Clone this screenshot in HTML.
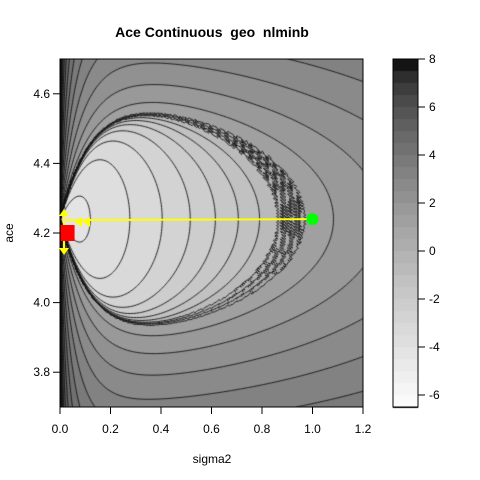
<!DOCTYPE html>
<html><head><meta charset="utf-8">
<style>
html,body{margin:0;padding:0;background:#fff;}
#wrap{position:relative;width:480px;height:480px;font-family:"Liberation Sans",Arial,sans-serif;}
canvas{position:absolute;left:0;top:0;}
svg{position:absolute;left:0;top:0;}
</style></head>
<body>
<div id="wrap">
<canvas id="cv" width="480" height="480"></canvas>
<svg id="sv" width="480" height="480"></svg>
</div>
<script>
// ---- data ----
const levelMin = -6.5, levelMax = 8, levelStep = 0.5;
const xTicks = [0.0, 0.2, 0.4, 0.6, 0.8, 1.0, 1.2];
const xTickLabels = ["0.0","0.2","0.4","0.6","0.8","1.0","1.2"];
const yTicks = [3.8, 4.0, 4.2, 4.4, 4.6];
const yTickLabels = ["3.8","4.0","4.2","4.4","4.6"];
const barTicks = [8, 6, 4, 2, 0, -2, -4, -6];
const centerProfile = [-4.3, 2.2, 2.5];   // inner value along ridge centre
const shapeParams = [0.345, 0.16, 0.12];  // half-height, growth, left pinch
const bandParams = [0.86, 0.97, 1.0];     // band start, band end, value at band edge
const outerParams = [0.23, 0.6, 2.3, 0.7];// height growth, pinch decay, value slope, exponent
const ridgeCenter = 4.24;
const optimumPoint = [1.0, 4.24];
const startPoint = [0.03, 4.2];
const pathStart = [0.025, 4.237];
const xDomain = [0, 1.2], yDomain = [3.7, 4.7];

// ---- geometry ----
const PL=60, PR=363, PT=59, PB=407;
const X = s => PL + (s - xDomain[0])/(xDomain[1]-xDomain[0])*(PR-PL);
const Y = a => PB - (a - yDomain[0])/(yDomain[1]-yDomain[0])*(PB-PT);
const BT=59, BB=407, BL=393, BR=418;
const LY = L => BB - (L - levelMin)/(levelMax-levelMin)*(BB-BT);

function g(sR){ return centerProfile[0] + centerProfile[1]*sR + centerProfile[2]*sR*sR; }
function D(s, sR){
  if (s >= sR) return 0;
  const [H,gr,w] = shapeParams;
  const u = s/sR;
  return H*(1-Math.exp(-sR/gr))*Math.sqrt(1-u*u)*(1-Math.exp(-s/w));
}
const H0 = shapeParams[0]*(1-Math.exp(-bandParams[1]/shapeParams[1]));
function Dout(s, sR){
  if (s >= sR) return 0;
  const [beta, decay] = outerParams;
  const b1 = bandParams[1];
  const H = H0 + beta*(sR-b1);
  const w = shapeParams[2]*Math.exp(-(sR-b1)*decay);
  const u = s/sR;
  return H*Math.sqrt(1-u*u)*(1-Math.exp(-s/w));
}
function surf(s, a, px, py){
  s = Math.max(s, 0.0005);
  const d = Math.abs(a - ridgeCenter);
  const [b0,b1,bv] = bandParams;
  const Db = D(s, b1);
  if (d < Db){
    let lo = s, hi = b1;
    for (let k=0;k<28;k++){ const m=(lo+hi)/2; if (D(s,m) < d) lo=m; else hi=m; }
    const sR = (lo+hi)/2;
    if (sR <= b0) return g(sR);
    const g0 = g(b0);
    return g0 + (sR-b0)/(b1-b0)*(bv-g0) + 0.5*Math.sin(px*1.7)*Math.sin(py*2.1);
  }
  let lo = Math.max(b1, s), hi = 8;
  for (let k=0;k<30;k++){ const m=(lo+hi)/2; if (Dout(s,m) < d) lo=m; else hi=m; }
  const sR=(lo+hi)/2;
  return bv + outerParams[2]*Math.pow(sR-b1, outerParams[3]);
}
const nb = Math.round((levelMax-levelMin)/levelStep);
function bandColor(i){
  const t = i/(nb-1);
  const v = Math.round(20 + 230*Math.pow(t,0.65));
  return "rgb("+v+","+v+","+v+")";
}
function colorFor(f){
  let k = Math.floor((levelMax - f)/levelStep);
  k = Math.max(0, Math.min(nb-1, k));
  return bandColor(k);
}

const cv = document.getElementById('cv'), ctx = cv.getContext('2d');
for (let px=PL; px<PR; px++){
  for (let py=PT; py<PB; py++){
    const s = xDomain[0] + (px+0.5-PL)/(PR-PL)*(xDomain[1]-xDomain[0]);
    const a = yDomain[0] + (PB-(py+0.5))/(PB-PT)*(yDomain[1]-yDomain[0]);
    ctx.fillStyle = colorFor(surf(s,a,px,py));
    ctx.fillRect(px,py,1,1);
  }
}
// contours
const step=1.5, nx=Math.ceil((PR-PL)/step)+1, ny=Math.ceil((PB-PT)/step)+1;
const G=[];
for (let j=0;j<ny;j++){G.push([]);for(let i=0;i<nx;i++){
  const px=Math.min(PL+i*step,PR), py=Math.min(PT+j*step,PB);
  const s=xDomain[0]+(px-PL)/(PR-PL)*(xDomain[1]-xDomain[0]);
  const a=yDomain[0]+(PB-py)/(PB-PT)*(yDomain[1]-yDomain[0]);
  G[j].push(Math.min(20,surf(s,a,px,py)));}}
ctx.save();ctx.beginPath();ctx.rect(PL,PT,PR-PL,PB-PT);ctx.clip();
ctx.strokeStyle="#111";ctx.lineWidth=0.9;ctx.beginPath();
for (let L=levelMin+levelStep; L<levelMax-1e-9; L+=levelStep){
  for (let j=0;j<ny-1;j++) for (let i=0;i<nx-1;i++){
    const v=[G[j][i],G[j][i+1],G[j+1][i+1],G[j+1][i]];
    const x0=PL+i*step,y0=PT+j*step;
    const P=[[x0,y0],[x0+step,y0],[x0+step,y0+step],[x0,y0+step]];
    const pts=[];
    for(let e=0;e<4;e++){const a=v[e],b=v[(e+1)%4];
      if((a<L)!==(b<L)){const t=(L-a)/(b-a);const p=P[e],q=P[(e+1)%4];
        pts.push([p[0]+t*(q[0]-p[0]),p[1]+t*(q[1]-p[1])]);}}
    if(pts.length>=2){ctx.moveTo(pts[0][0],pts[0][1]);ctx.lineTo(pts[1][0],pts[1][1]);}
    if(pts.length===4){ctx.moveTo(pts[2][0],pts[2][1]);ctx.lineTo(pts[3][0],pts[3][1]);}
  }
}
ctx.stroke();ctx.restore();
// colorbar
for (let k=0;k<nb;k++){
  const hi=levelMax-k*levelStep, lo=hi-levelStep;
  ctx.fillStyle=bandColor(k);
  ctx.fillRect(BL,LY(hi),BR-BL,LY(lo)-LY(hi));
  ctx.strokeStyle="#000";ctx.lineWidth=1;
  ctx.beginPath();ctx.moveTo(BL,Math.round(LY(lo))+0.5);ctx.lineTo(BR,Math.round(LY(lo))+0.5);ctx.stroke();
}

// svg overlay
const NS="http://www.w3.org/2000/svg", sv=document.getElementById('sv');
function mk(tag,attrs,txt){const e=document.createElementNS(NS,tag);for(const k in attrs)e.setAttribute(k,attrs[k]);if(txt!==undefined)e.textContent=txt;sv.appendChild(e);return e;}
let e;
e=mk('rect',{x:PL,y:PT,width:PR-PL,height:PB-PT,fill:'none',stroke:'#000','stroke-width':1});


e=mk('rect',{x:BL,y:BT,width:BR-BL,height:BB-BT,fill:'none',stroke:'#000','stroke-width':1});


xTicks.forEach((t,i)=>{
  const x=X(t);
  e=mk('line',{x1:x,y1:PB,x2:x,y2:PB+7,stroke:'#000'});
  
  
  e=mk('text',{x:x,y:PB+26,'font-size':12,'text-anchor':'middle'},xTickLabels[i]);
  
  
});
yTicks.forEach((t,i)=>{
  const y=Y(t);
  e=mk('line',{x1:PL-7,y1:y,x2:PL,y2:y,stroke:'#000'});
  
  
  e=mk('text',{x:PL-10,y:y+4,'font-size':12,'text-anchor':'end'},yTickLabels[i]);
  
  
});
barTicks.forEach(t=>{
  const y=LY(t);
  e=mk('line',{x1:BR,y1:y,x2:BR+7,y2:y,stroke:'#000'});
  
  
  e=mk('text',{x:BR+11,y:y+4,'font-size':12},String(t));
  
  
});
e=mk('text',{x:212,y:37,'font-size':14,'font-weight':'bold','text-anchor':'middle'},'Ace Continuous\u00a0\u00a0geo\u00a0\u00a0nlminb');


e=mk('text',{x:212,y:463,'font-size':12,'text-anchor':'middle'},'sigma2');


e=mk('text',{x:0,y:0,'font-size':12,'text-anchor':'middle',transform:'translate(13,233) rotate(-90)'},'ace');


e=mk('line',{x1:X(pathStart[0]),y1:Y(pathStart[1]),x2:X(optimumPoint[0]),y2:Y(optimumPoint[1]),stroke:'#ffff00','stroke-width':2});


[[64,216,0,-1],[64,248,0,1],[82,222,1,0],[90,222,1,0]].forEach(p=>{
  const [x,y,dx,dy]=p;
  const pts = dy? `${x-5},${y} ${x+5},${y} ${x},${y+dy*7}` : `${x},${y-5} ${x},${y+5} ${x-7},${y}`;
  e=mk('polygon',{points:pts,fill:'#ffff00'});
  
  
});
e=mk('line',{x1:64,y1:214,x2:64,y2:252,stroke:'#ffff00','stroke-width':2});


e=mk('rect',{x:X(startPoint[0])-7,y:Y(startPoint[1])-8,width:14,height:16,fill:'#ff0000'});


e=mk('circle',{cx:X(optimumPoint[0]),cy:Y(optimumPoint[1]),r:6,fill:'#00ff00'});


</script>
</body></html>
